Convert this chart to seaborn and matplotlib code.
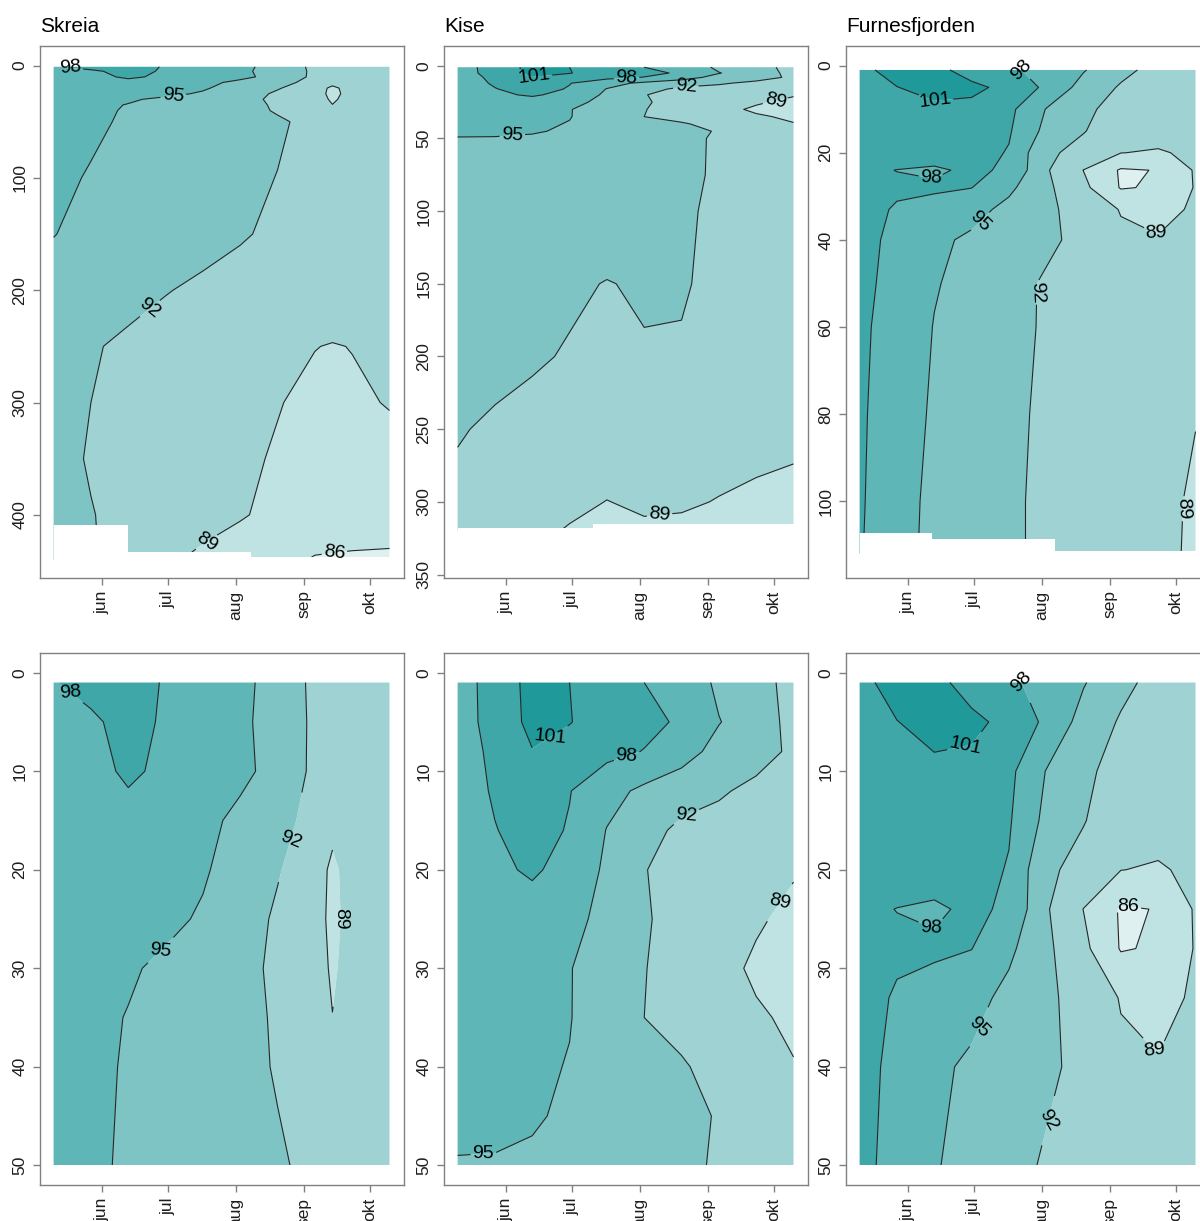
import numpy as np
import matplotlib
matplotlib.use("Agg")
import matplotlib.pyplot as plt
import seaborn as sns

# ---------------------------------------------------------------- data
month_ticks = [152, 182, 213, 244, 274]          # day of year, 1st of month
month_labels = ["jun", "jul", "aug", "sep", "okt"]
band_levels = [80, 86, 89, 92, 95, 98, 101, 110]
line_levels = [86, 89, 92, 95, 98, 101]

# --- Skreia
skreia_days = [130, 147, 164, 181, 198, 215, 232, 249, 257, 266, 283]
skreia_depths = [1, 5, 10, 15, 20, 25, 30, 35, 40, 50, 100, 150, 200, 250, 300, 350, 400, 440]
skreia_o2 = [
    [97.9, 98.8, 99.0, 97.8, 96.9, 95.8, 93.8, 91.4, 91.1, 90.8, 90.6],
    [96.8, 97.6, 98.8, 97.7, 96.9, 95.6, 93.8, 91.5, 91.15, 90.8, 90.6],
    [96.6, 97.2, 98.4, 97.5, 96.8, 95.7, 94.0, 91.4, 91.0, 90.8, 90.6],
    [96.5, 96.9, 97.2, 96.7, 95.8, 94.3, 92.8, 91.2, 89.9, 90.5, 90.4],
    [96.5, 96.7, 96.6, 96.1, 95.3, 93.8, 92.2, 90.4, 88.4, 90.2, 90.3],
    [96.4, 96.5, 96.3, 95.6, 94.7, 93.3, 91.6, 90.3, 88.2, 90.1, 90.3],
    [96.3, 96.0, 95.3, 94.5, 93.8, 92.8, 91.5, 90.3, 88.6, 90.1, 90.3],
    [96.2, 95.6, 94.9, 94.2, 93.6, 92.8, 91.7, 90.4, 89.05, 90.1, 90.3],
    [96.1, 95.5, 94.8, 94.1, 93.5, 92.8, 91.8, 90.6, 90.2, 90.1, 90.3],
    [96.0, 95.4, 94.7, 94.2, 93.7, 93.1, 92.3, 91.4, 90.9, 90.6, 90.5],
    [95.5, 94.83, 94.26, 93.69, 93.12, 92.55, 91.95, 91.5, 91.35, 91.2, 91.0],
    [95.05, 94.48, 93.9, 93.34, 92.77, 92.2, 91.6, 91.2, 91.1, 91.0, 90.8],
    [94.2, 93.5, 92.7, 92.1, 91.6, 91.2, 90.9, 90.5, 90.4, 90.3, 90.0],
    [93.0, 92.2, 91.6, 91.1, 90.7, 90.3, 89.8, 89.05, 88.9, 89.05, 89.6],
    [92.6, 92.0, 91.4, 90.7, 90.1, 89.5, 89.1, 88.5, 88.5, 88.7, 89.1],
    [92.8, 91.8, 91.2, 90.6, 90.0, 89.4, 88.8, 88.2, 88.1, 88.2, 88.4],
    [93.3, 92.1, 91.3, 90.6, 89.9, 89.2, 88.4, 87.8, 87.7, 87.6, 87.5],
    [93.5, 92.3, 90.8, 89.4, 88.5, 87.8, 86.8, 85.8, 85.7, 85.6, 85.5],
]
skreia_bottom_days = [130, 163.8, 219.9, 283.3]
skreia_bottom_depths = [408.8, 432.7, 437.7]

# --- Kise
kise_days = [130, 147, 164, 181, 198, 215, 232, 249, 266, 283]
kise_depths = [1, 5, 8, 12, 16, 20, 25, 30, 35, 40, 45, 50, 75, 100, 150, 200, 250, 300, 320]
kise_o2 = [
    [96.9, 99.0, 102.0, 101.0, 99.5, 98.0, 96.8, 94.5, 92.8, 91.3],
    [96.8, 99.0, 101.8, 101.1, 99.8, 98.8, 97.6, 95.1, 93.7, 91.0],
    [96.7, 98.6, 100.9, 100.0, 98.8, 97.9, 96.0, 94.2, 93.3, 91.4],
    [96.6, 98.3, 99.6, 98.1, 96.0, 94.4, 93.6, 92.4, 91.2, 90.6],
    [96.5, 97.9, 99.0, 97.8, 94.9, 93.3, 91.2, 90.8, 90.3, 90.0],
    [96.4, 97.4, 98.4, 97.0, 94.5, 92.1, 91.0, 90.5, 89.9, 89.2],
    [96.3, 96.8, 96.6, 95.8, 94.2, 92.3, 90.9, 90.2, 89.3, 88.4],
    [96.2, 96.1, 95.7, 95.1, 93.8, 92.1, 90.8, 89.8, 88.6, 88.2],
    [96.1, 96.0, 95.6, 95.1, 93.6, 92.0, 91.0, 90.2, 89.3, 88.6],
    [96.0, 95.8, 95.4, 94.9, 94.2, 93.4, 92.3, 91.0, 89.9, 89.1],
    [95.8, 95.6, 95.2, 94.7, 94.2, 93.5, 92.8, 91.8, 90.9, 90.2],
    [94.8, 94.8, 94.7, 94.4, 94.0, 93.4, 92.6, 91.7, 90.9, 90.3],
    [94.4, 94.3, 94.2, 94.0, 93.7, 93.3, 92.7, 91.6, 90.9, 90.7],
    [94.3, 94.2, 94.1, 93.9, 93.6, 93.1, 92.4, 91.5, 90.9, 90.7],
    [94.0, 93.6, 93.0, 92.4, 91.9, 92.3, 92.3, 91.2, 90.8, 90.6],
    [93.4, 92.8, 92.3, 91.8, 91.3, 91.8, 91.7, 90.9, 90.6, 90.4],
    [92.2, 91.6, 91.2, 91.0, 90.8, 90.6, 90.4, 90.2, 90.0, 90.1],
    [91.4, 91.0, 90.4, 89.6, 88.95, 89.4, 89.3, 88.9, 88.5, 87.8],
    [91.0, 90.3, 89.6, 88.8, 88.6, 88.6, 88.5, 88.2, 87.9, 87.6],
]
kise_bottom_days = [130, 191.7, 283]
kise_bottom_depths = [318.0, 315.5]

# --- Furnesfjorden
furnes_days = [130, 147, 164, 181, 198, 215, 232, 249, 266, 283]
furnes_depths = [1, 5, 10, 15, 20, 24, 28, 33, 40, 50, 60, 80, 100, 112]
furnes_o2 = [
    [100.3, 102.0, 101.8, 99.9, 98.6, 96.8, 95.2, 92.8, 91.0, 90.7],
    [100.0, 100.95, 101.8, 101.6, 100.3, 97.4, 93.9, 91.7, 90.8, 90.5],
    [99.7, 100.3, 100.5, 100.3, 98.7, 94.9, 92.5, 91.1, 90.6, 90.3],
    [99.5, 99.9, 100.0, 99.8, 98.3, 94.2, 92.1, 90.8, 90.3, 90.3],
    [99.3, 99.4, 99.3, 99.2, 97.8, 92.4, 91.3, 89.05, 88.7, 89.6],
    [98.6, 97.95, 97.6, 98.5, 97.6, 92.3, 88.95, 85.7, 86.1, 89.3],
    [98.9, 98.5, 98.4, 98.05, 95.6, 92.6, 89.7, 85.8, 86.3, 89.2],
    [99.1, 97.7, 97.0, 96.0, 94.2, 92.6, 90.8, 88.85, 87.6, 89.6],
    [98.9, 97.3, 95.6, 94.5, 93.5, 92.5, 91.3, 89.5, 89.3, 90.0],
    [98.8, 97.0, 95.2, 94.1, 92.9, 91.7, 91.0, 90.5, 90.1, 89.9],
    [98.5, 96.9, 94.9, 93.8, 92.8, 91.7, 91.0, 90.6, 90.2, 90.0],
    [98.4, 96.5, 94.6, 93.6, 92.5, 91.6, 91.0, 90.5, 90.0, 89.1],
    [98.3, 96.3, 94.2, 93.4, 92.4, 91.5, 90.9, 90.4, 89.8, 88.6],
    [98.2, 96.2, 94.1, 93.3, 92.4, 91.5, 90.9, 90.4, 89.8, 88.5],
]
furnes_bottom_days = [130, 163.0, 219.0, 283.5]
furnes_bottom_depths = [107.2, 108.6, 111.5]

# upper-50-m panels are cut at 50 m
upper_bottom_days = [129, 284]
upper_bottom_depths = [50.0]

# contour-label anchor points (day, depth) per level
skreia_full_labels = [(98, [(137.6, 3.5)]), (95, [(184.6, 29)]), (92, [(172.5, 213)]),
                      (89, [(199.8, 425)]), (86, [(258, 436)])]
kise_full_labels = [(101, [(165, 7)]), (98, [(207, 10)]), (92, [(234, 15.5)]),
                    (89, [(275, 26), (222, 309)]), (95, [(155, 49)])]
furnes_full_labels = [(98, [(199.3, 2), (162.9, 25)]), (101, [(164.4, 7)]), (95, [(183.4, 35)]),
                      (92, [(212.2, 52)]), (89, [(263.7, 39.6), (278, 101.7)])]
skreia_upper_labels = [(98, [(137.6, 1.7)]), (95, [(178.8, 28.6)]), (92, [(237.8, 16.7)]),
                       (89, [(262, 25.4)])]
kise_upper_labels = [(101, [(172, 6.4)]), (98, [(207, 8.9)]), (92, [(234.2, 14.6)]),
                     (89, [(276.5, 22)]), (95, [(141.7, 48)])]
furnes_upper_labels = [(98, [(199.3, 1.6), (162.9, 25)]), (101, [(178.1, 7.8)]), (95, [(183.4, 35.5)]),
                       (92, [(215.3, 45.3)]), (86, [(252.3, 24.7)]), (89, [(263.7, 39)])]

# ---------------------------------------------------------------- style
sns.set_theme(style="white")
plt.rcParams["font.family"] = ["Liberation Sans", "DejaVu Sans"]
band_colors = sns.blend_palette(["#DFF0F0", "#1F9999"], n_colors=7)
GREY = "#808080"

fig = plt.figure(figsize=(12, 12.21), dpi=100)
col_left = [40 / 1200, 444 / 1200, 846 / 1200]
ax_w = 364 / 1200
ax_h = 532 / 1221
row_bottom = [1 - 578 / 1221, 1 - 1185 / 1221]
XLIM = (123.8, 289.6)


def draw_panel(ax, days, depths, values, bdays, bdepths, ylim, yticks, labels, title=None):
    X = np.array(days, dtype=float)
    Y = np.array(depths, dtype=float)
    Z = np.array(values, dtype=float)
    ax.contourf(X, Y, Z, levels=band_levels, colors=band_colors, zorder=1, antialiased=True)
    label_pts = dict(labels)
    for lev in line_levels:
        cs = ax.contour(X, Y, Z, levels=[lev], colors="#262626", linewidths=0.8, zorder=2)
        if lev in label_pts and len(cs.allsegs[0]) > 0:
            txts = cs.clabel(manual=label_pts[lev], inline=True, inline_spacing=3, fmt="%d",
                             fontsize=14, colors="black")
            for t in txts:
                t.set_zorder(3)
    # blank out depths below the deepest observation
    sx = list(bdays)
    sy = list(bdepths) + [bdepths[-1]]
    ax.fill_between(sx, sy, 10000, step="post", color="white", linewidth=0, zorder=2.5)
    ax.set_xlim(*XLIM)
    ax.set_ylim(*ylim)
    ax.set_xticks(month_ticks)
    ax.set_xticklabels(month_labels, rotation=90, ha="center", va="top")
    ax.set_yticks(yticks)
    ax.set_yticklabels([str(v) for v in yticks], rotation=90, va="center", ha="right")
    ax.tick_params(axis="both", direction="out", length=5, width=1, color=GREY,
                   labelsize=12.5, labelcolor="#1e1e1e", pad=4, left=True, bottom=True)
    for sp in ax.spines.values():
        sp.set_color(GREY)
        sp.set_linewidth(1.0)
        sp.set_visible(True)
    ax.grid(False)
    if title:
        ax.set_title(title, loc="left", fontsize=15, pad=10, color="black")


panels = [
    (skreia_days, skreia_depths, skreia_o2, skreia_bottom_days, skreia_bottom_depths,
     (456.3, -17.5), [0, 100, 200, 300, 400], skreia_full_labels, "Skreia"),
    (kise_days, kise_depths, kise_o2, kise_bottom_days, kise_bottom_depths,
     (352.4, -13.6), [0, 50, 100, 150, 200, 250, 300, 350], kise_full_labels, "Kise"),
    (furnes_days, furnes_depths, furnes_o2, furnes_bottom_days, furnes_bottom_depths,
     (117.6, -4.5), [0, 20, 40, 60, 80, 100], furnes_full_labels, "Furnesfjorden"),
]
upper = [
    (skreia_days, skreia_depths, skreia_o2, skreia_upper_labels),
    (kise_days, kise_depths, kise_o2, kise_upper_labels),
    (furnes_days, furnes_depths, furnes_o2, furnes_upper_labels),
]

for i, (d, z, v, bd, bz, yl, yt, lab, title) in enumerate(panels):
    ax = fig.add_axes([col_left[i], row_bottom[0], ax_w, ax_h])
    draw_panel(ax, d, z, v, bd, bz, yl, yt, lab, title)

for i, (d, z, v, lab) in enumerate(upper):
    ax = fig.add_axes([col_left[i], row_bottom[1], ax_w, ax_h])
    draw_panel(ax, d, z, v, upper_bottom_days, upper_bottom_depths, (52, -2),
               [0, 10, 20, 30, 40, 50], lab)

fig.savefig("out.png", dpi=100)
